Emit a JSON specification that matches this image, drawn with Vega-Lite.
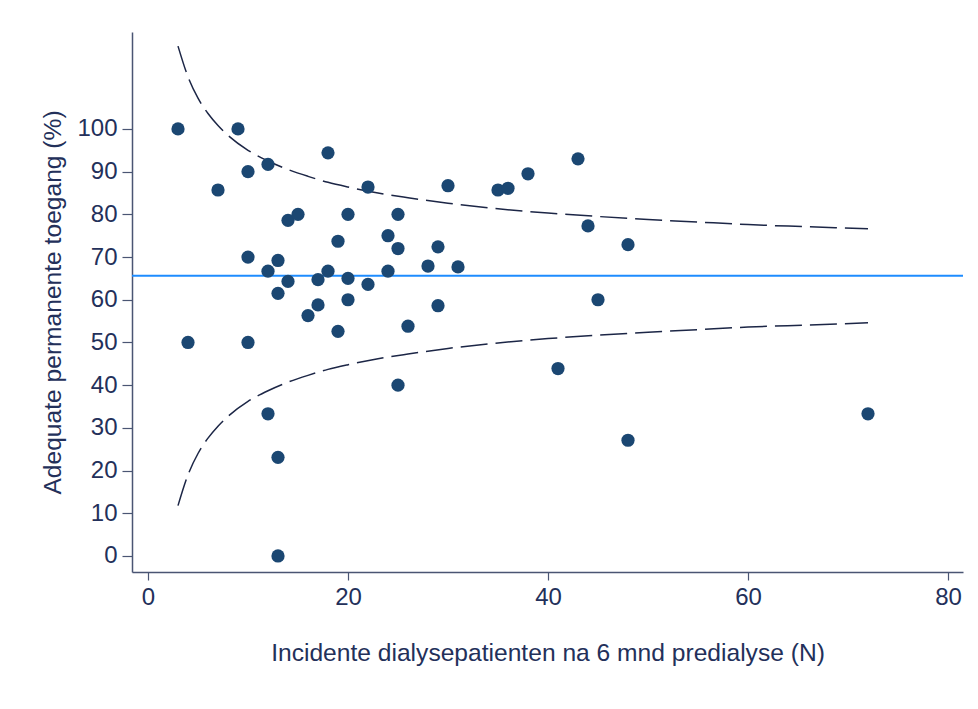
{
  "$schema": "https://vega.github.io/schema/vega-lite/v6.json",
  "width": 831,
  "height": 540,
  "autosize": {"type": "none"},
  "padding": {"left": 132, "top": 32, "right": 15, "bottom": 137},
  "background": "white",
  "datasets": {
    "centers": [
      {"n": 3, "pct": 100}, {"n": 4, "pct": 50}, {"n": 7, "pct": 85.7},
      {"n": 9, "pct": 100}, {"n": 10, "pct": 90}, {"n": 10, "pct": 70},
      {"n": 10, "pct": 50}, {"n": 12, "pct": 91.7}, {"n": 12, "pct": 66.7},
      {"n": 12, "pct": 33.3}, {"n": 13, "pct": 69.2}, {"n": 13, "pct": 61.5},
      {"n": 13, "pct": 23.1}, {"n": 13, "pct": 0}, {"n": 14, "pct": 78.6},
      {"n": 14, "pct": 64.3}, {"n": 15, "pct": 80}, {"n": 16, "pct": 56.3},
      {"n": 17, "pct": 64.7}, {"n": 17, "pct": 58.8}, {"n": 18, "pct": 94.4},
      {"n": 18, "pct": 66.7}, {"n": 19, "pct": 73.7}, {"n": 19, "pct": 52.6},
      {"n": 20, "pct": 80}, {"n": 20, "pct": 65}, {"n": 20, "pct": 60},
      {"n": 22, "pct": 86.4}, {"n": 22, "pct": 63.6}, {"n": 24, "pct": 75},
      {"n": 24, "pct": 66.7}, {"n": 25, "pct": 80}, {"n": 25, "pct": 72},
      {"n": 25, "pct": 40}, {"n": 26, "pct": 53.8}, {"n": 28, "pct": 67.9},
      {"n": 29, "pct": 72.4}, {"n": 29, "pct": 58.6}, {"n": 30, "pct": 86.7},
      {"n": 31, "pct": 67.7}, {"n": 35, "pct": 85.7}, {"n": 36, "pct": 86.1},
      {"n": 38, "pct": 89.5}, {"n": 41, "pct": 43.9}, {"n": 43, "pct": 93},
      {"n": 44, "pct": 77.3}, {"n": 45, "pct": 60}, {"n": 48, "pct": 72.9},
      {"n": 48, "pct": 27.1}, {"n": 72, "pct": 33.3}
    ],
    "funnel": [
      {"n": 3, "upper": 119.4, "lower": 11.8},
      {"n": 4, "upper": 112.2, "lower": 19.0},
      {"n": 5, "upper": 107.2, "lower": 24.0},
      {"n": 6, "upper": 103.6, "lower": 27.6},
      {"n": 7, "upper": 100.8, "lower": 30.4},
      {"n": 8, "upper": 98.5, "lower": 32.7},
      {"n": 10, "upper": 95.0, "lower": 36.2},
      {"n": 12, "upper": 92.5, "lower": 38.7},
      {"n": 14, "upper": 90.5, "lower": 40.7},
      {"n": 16, "upper": 88.9, "lower": 42.3},
      {"n": 18, "upper": 87.5, "lower": 43.7},
      {"n": 20, "upper": 86.4, "lower": 44.8},
      {"n": 23, "upper": 85.0, "lower": 46.2},
      {"n": 26, "upper": 83.9, "lower": 47.3},
      {"n": 30, "upper": 82.6, "lower": 48.6},
      {"n": 35, "upper": 81.3, "lower": 49.9},
      {"n": 40, "upper": 80.3, "lower": 50.9},
      {"n": 45, "upper": 79.5, "lower": 51.7},
      {"n": 50, "upper": 78.8, "lower": 52.4},
      {"n": 55, "upper": 78.2, "lower": 53.0},
      {"n": 60, "upper": 77.6, "lower": 53.6},
      {"n": 66, "upper": 77.1, "lower": 54.1},
      {"n": 72, "upper": 76.6, "lower": 54.6}
    ],
    "mean": [{"pct": 65.6}]
  },
  "layer": [
    {
      "data": {"name": "mean"},
      "mark": {"type": "rule", "color": "#1e8cff", "strokeWidth": 2},
      "encoding": {
        "y": {"field": "pct", "type": "quantitative", "scale": {"domain": [-3.75, 122.7], "nice": false, "zero": false}}
      }
    },
    {
      "data": {"name": "funnel"},
      "mark": {"type": "line", "color": "#1c2646", "strokeWidth": 1.5, "strokeDash": [27, 8], "interpolate": "monotone"},
      "encoding": {
        "x": {"field": "n", "type": "quantitative"},
        "y": {"field": "upper", "type": "quantitative"}
      }
    },
    {
      "data": {"name": "funnel"},
      "mark": {"type": "line", "color": "#1c2646", "strokeWidth": 1.5, "strokeDash": [27, 8], "interpolate": "monotone"},
      "encoding": {
        "x": {"field": "n", "type": "quantitative"},
        "y": {"field": "lower", "type": "quantitative"}
      }
    },
    {
      "data": {"name": "centers"},
      "mark": {"type": "circle", "color": "#1b4772", "opacity": 1, "size": 175},
      "encoding": {
        "x": {
          "field": "n",
          "type": "quantitative",
          "title": "Incidente dialysepatienten na 6 mnd predialyse (N)",
          "scale": {"domain": [-1.6, 81.5], "nice": false, "zero": false},
          "axis": {"values": [0, 20, 40, 60, 80], "titlePadding": 32}
        },
        "y": {
          "field": "pct",
          "type": "quantitative",
          "title": "Adequate permanente toegang (%)",
          "axis": {"values": [0, 10, 20, 30, 40, 50, 60, 70, 80, 90, 100], "titlePadding": 11}
        }
      }
    }
  ],
  "config": {
    "view": {"stroke": null},
    "font": "Liberation Sans",
    "axis": {
      "grid": false,
      "domainColor": "#4a5573",
      "domainWidth": 1.5,
      "tickColor": "#4a5573",
      "tickWidth": 1.2,
      "tickSize": 10,
      "labelFont": "Liberation Sans",
      "labelFontSize": 24,
      "labelColor": "#23305a",
      "labelPadding": 5,
      "titleFont": "Liberation Sans",
      "titleFontSize": 24.6,
      "titleFontWeight": "normal",
      "titleColor": "#23305a"
    },
    "axisX": {"tickSize": 8}
  }
}
